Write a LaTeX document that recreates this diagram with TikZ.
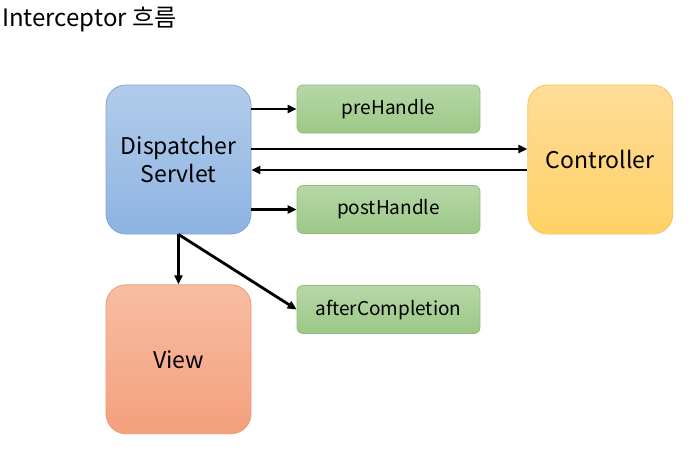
\documentclass[tikz,border=0pt]{standalone}
\usepackage{fontspec}
\setmainfont{Noto Sans CJK KR}
\usepackage{xcolor}
\usetikzlibrary{arrows.meta,positioning,calc}

\definecolor{blueTop}{HTML}{B2CCEA}
\definecolor{blueBot}{HTML}{8EB3E2}
\definecolor{blueLine}{HTML}{7FA5D6}
\definecolor{greenTop}{HTML}{B6D7A8}
\definecolor{greenBot}{HTML}{9CC886}
\definecolor{greenLine}{HTML}{8FBF7A}
\definecolor{yellowTop}{HTML}{FFDC99}
\definecolor{yellowBot}{HTML}{FFD166}
\definecolor{yellowLine}{HTML}{F5C55E}
\definecolor{redTop}{HTML}{F7BDA3}
\definecolor{redBot}{HTML}{F4A07C}
\definecolor{redLine}{HTML}{EE9A72}

\begin{document}
\begin{tikzpicture}[
    x=1pt, y=-1pt,
    bigbox/.style={rectangle, rounded corners=20pt, minimum width=145pt, minimum height=149pt, align=center, font=\fontsize{23}{28}\selectfont, line width=0.8pt},
    hookbox/.style={rectangle, rounded corners=6pt, minimum width=183pt, minimum height=48pt, font=\fontsize{19}{22}\selectfont, top color=greenTop, bottom color=greenBot, draw=greenLine, line width=0.8pt},
    arrow/.style={-{Triangle[length=9pt,width=8pt]}, line width=2.8pt}
]
\useasboundingbox (0,0) rectangle (690,456);

% Title
\node[anchor=west, font=\fontsize{24}{28}\selectfont, inner sep=0pt] (title) at (2,20) {Interceptor 흐름};

% Dispatcher Servlet
\node[bigbox, top color=blueTop, bottom color=blueBot, draw=blueLine] (ds) at (178.5,159.5) {Dispatcher\\Servlet};

% Controller
\node[bigbox, top color=yellowTop, bottom color=yellowBot, draw=yellowLine, right=276pt of ds] (ctrl) {Controller};

% View
\node[bigbox, top color=redTop, bottom color=redBot, draw=redLine, below=50pt of ds] (view) {View};

% Interceptor hooks
\node[hookbox] (pre) at (388.5,109) {preHandle};
\node[hookbox] (post) at (388.5,209.5) {postHandle};
\node[hookbox] (after) at (388.5,309.5) {afterCompletion};

% Arrows
\draw[arrow] (ds.east |- pre) -- (pre.west);
\draw[arrow] ($(ds.east)+(0,-10.5)$) -- ($(ctrl.west)+(0,-10.5)$);
\draw[arrow] ($(ctrl.west)+(0,10.5)$) -- ($(ds.east)+(0,10.5)$);
\draw[arrow] (ds.east |- post) -- (post.west);
\draw[arrow] (ds.south) -- (view.north);
\draw[arrow] (ds.south) -- (after.west);

\end{tikzpicture}
\end{document}
